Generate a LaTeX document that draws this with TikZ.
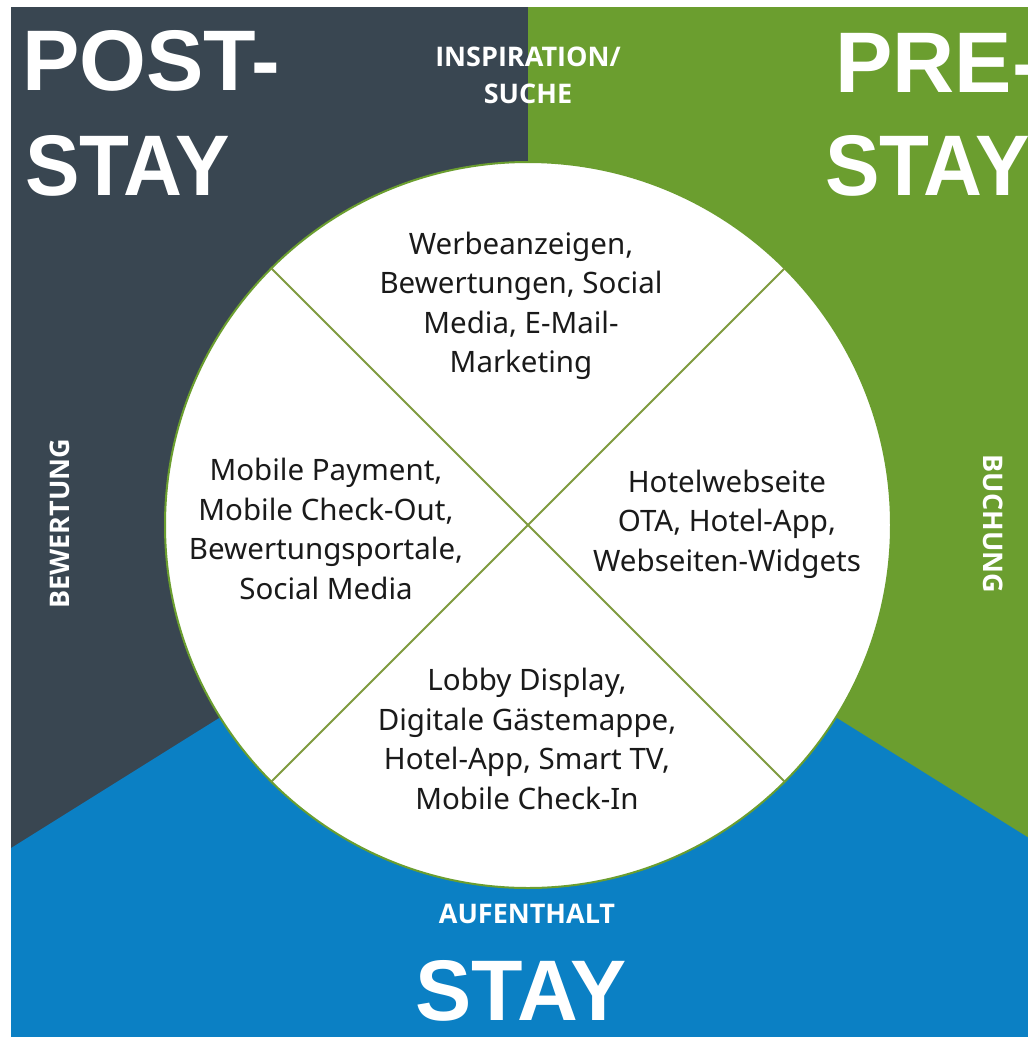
\documentclass[tikz,border=0pt]{standalone}
\usepackage{fontspec}
\setmainfont{Noto Sans}
\newfontfamily\headfont{Liberation Sans}
\newfontfamily\phasefont{Open Sans}
\usepackage{graphicx}
\usetikzlibrary{positioning, calc}
\definecolor{SlateA}{HTML}{394651}
\definecolor{GreenA}{HTML}{6B9E2F}
\definecolor{BlueA}{HTML}{0B80C4}
\definecolor{SpokeA}{HTML}{7F9B3F}
\definecolor{InkA}{HTML}{1A1A1A}
\newcommand{\narrow}[1]{\scalebox{0.95}[1]{#1}}
\tikzset{
  head/.style={text=white, font=\headfont\bfseries\fontsize{86}{96}\selectfont, inner sep=0pt},
  phase/.style={text=white, font=\phasefont\bfseries\fontsize{27}{37}\selectfont, inner sep=0pt, align=center},
  seg/.style={text=InkA, font=\fontsize{29.5}{39.5}\selectfont, inner sep=0pt, align=center},
  rim/.style={draw=GreenA, line width=2pt, fill=white},
  spoke/.style={draw=SpokeA, line width=1.8pt}
}

\begin{document}
\begin{tikzpicture}[x=1pt, y=-1pt]
  \useasboundingbox (0,0) rectangle (1028,1037);
  \fill[white] (0,0) rectangle (1028,1037);
  \coordinate (c) at (528,525);
  \begin{scope}
    \clip (11,7) rectangle (1028,1037);
    % three phase fields
    \fill[SlateA] (11,7) rectangle (528,1037);
    \fill[GreenA] (528,7) rectangle (1028,1037);
    \fill[BlueA] (c) -- ($(c)+(148:1200)$) -- (-600,1400) -- (1700,1400) -- ($(c)+(32:1200)$) -- cycle;

    \node[head, anchor=base west] (post1) at (22,90) {POST-};
    \node[head, anchor=base west] (post2) at (25,195) {\narrow{STAY}};
    \node[head, anchor=base west] (pre1) at (835,92) {PRE-};
    \node[head, anchor=base west] (pre2) at (825,195) {\narrow{STAY}};
    \node[head, anchor=base] (stay) at (521,1020) {\scalebox{0.98}[1]{STAY}};
  \end{scope}

  \node[phase] (insp) at (528,75) {INSPIRATION/\\SUCHE};
  \node[phase, rotate=90] (bew) at (60,524) {BEWERTUNG};
  \node[phase, rotate=-90] (buch) at (993,524) {BUCHUNG};
  \node[phase] (aufe) at (527,914) {AUFENTHALT};

  % the wheel
  \draw[rim] (c) circle[radius=363];
  \coordinate (ne) at ($(c)+(45:363)$);
  \coordinate (sw) at ($(c)+(225:363)$);
  \coordinate (nw) at ($(c)+(135:363)$);
  \coordinate (se) at ($(c)+(315:363)$);
  \draw[spoke] (ne) -- (sw);
  \draw[spoke] (nw) -- (se);

  \node[seg] (werb) at (521,306) {Werbeanzeigen,\\Bewertungen, Social\\Media, E-Mail-\\Marketing};
  \node[seg] (mob) at (326,529) {Mobile Payment,\\Mobile Check-Out,\\Bewertungsportale,\\Social Media};
  \node[seg] (hotel) at (727,524) {Hotelwebseite\\OTA, Hotel-App,\\Webseiten-Widgets};
  \node[seg] (lobby) at (527,739) {Lobby Display,\\Digitale Gästemappe,\\Hotel-App, Smart TV,\\Mobile Check-In};
\end{tikzpicture}
\end{document}
